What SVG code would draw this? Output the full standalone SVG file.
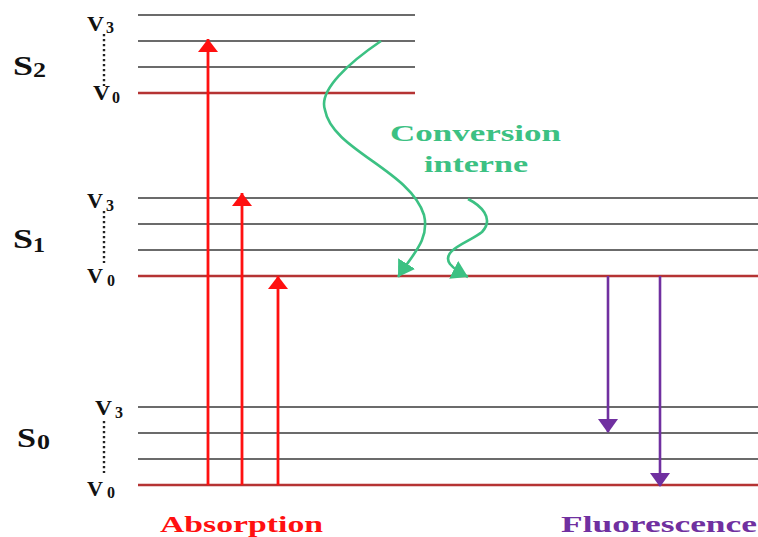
<svg xmlns="http://www.w3.org/2000/svg" width="758" height="537" viewBox="0 0 758 537">
<style>
.lv{stroke:#3a3a3a;stroke-width:1.6;fill:none}
.l0{stroke:#b53333;stroke-width:2.4;fill:none}
.dot{stroke:#222;stroke-width:2.4;stroke-dasharray:2.2 2.8;fill:none}
.t{font-family:"Liberation Serif",serif;font-weight:bold;fill:#111}
.S{font-size:28px}
.Ss{font-size:20px}
.V{font-size:21px}
.Vs{font-size:16px}
.big{font-size:24px}
.ab{stroke:#ff1010;stroke-width:2.8;fill:none}
.fl{stroke:#7030a0;stroke-width:2.6;fill:none}
.ic{stroke:#3cc183;stroke-width:2.6;fill:none}
</style>
<defs>
<marker id="ar" markerWidth="14" markerHeight="20" refX="13" refY="10" orient="auto" markerUnits="userSpaceOnUse"><path d="M0,0 L13,10 L0,20z" fill="#ff1010"/></marker>
<marker id="ap" markerWidth="14" markerHeight="20" refX="13" refY="10" orient="auto" markerUnits="userSpaceOnUse"><path d="M0,0 L14,10 L0,20z" fill="#7030a0"/></marker>
<marker id="ag" markerWidth="17" markerHeight="20" refX="16" refY="10" orient="auto" markerUnits="userSpaceOnUse"><path d="M0,0 L16,10 L0,20z" fill="#3cc183"/></marker>
</defs>
<g id="S2">
<line class="lv" x1="138" y1="15" x2="415" y2="15"/>
<line class="lv" x1="138" y1="41" x2="415" y2="41"/>
<line class="lv" x1="138" y1="67" x2="415" y2="67"/>
<line class="l0" x1="138" y1="93" x2="415" y2="93"/>
<line class="dot" x1="104" y1="34" x2="104" y2="86"/>
<text class="t S" x="13" y="75" textLength="20" lengthAdjust="spacingAndGlyphs">S</text>
<text class="t Ss" x="33" y="77" textLength="13" lengthAdjust="spacingAndGlyphs">2</text>
<text class="t V" x="87" y="31" textLength="17" lengthAdjust="spacingAndGlyphs">V</text>
<text class="t Vs" x="106" y="33">3</text>
<text class="t V" x="93" y="100" textLength="17" lengthAdjust="spacingAndGlyphs">V</text>
<text class="t Vs" x="112" y="103">0</text>
</g>
<g id="S1">
<line class="lv" x1="138" y1="198" x2="758" y2="198"/>
<line class="lv" x1="138" y1="224" x2="758" y2="224"/>
<line class="lv" x1="138" y1="250" x2="758" y2="250"/>
<line class="l0" x1="138" y1="276" x2="758" y2="276"/>
<line class="dot" x1="104" y1="211" x2="104" y2="263"/>
<text class="t S" x="13" y="248" textLength="20" lengthAdjust="spacingAndGlyphs">S</text>
<text class="t Ss" x="33" y="252" textLength="12" lengthAdjust="spacingAndGlyphs">1</text>
<text class="t V" x="87" y="208" textLength="16" lengthAdjust="spacingAndGlyphs">V</text>
<text class="t Vs" x="106" y="211">3</text>
<text class="t V" x="87" y="283" textLength="16" lengthAdjust="spacingAndGlyphs">V</text>
<text class="t Vs" x="107" y="286">0</text>
</g>
<g id="S0">
<line class="lv" x1="138" y1="407" x2="758" y2="407"/>
<line class="lv" x1="138" y1="433" x2="758" y2="433"/>
<line class="lv" x1="138" y1="459" x2="758" y2="459"/>
<line class="l0" x1="138" y1="485" x2="758" y2="485"/>
<line class="dot" x1="104" y1="421" x2="104" y2="473"/>
<text class="t S" x="17" y="447" textLength="19" lengthAdjust="spacingAndGlyphs">S</text>
<text class="t Ss" x="37" y="449" textLength="13" lengthAdjust="spacingAndGlyphs">0</text>
<text class="t V" x="95" y="415" textLength="17" lengthAdjust="spacingAndGlyphs">V</text>
<text class="t Vs" x="115" y="418">3</text>
<text class="t V" x="87" y="496" textLength="16" lengthAdjust="spacingAndGlyphs">V</text>
<text class="t Vs" x="107" y="498">0</text>
</g>
<g id="connectors">
<line class="ab" x1="208" y1="485" x2="208" y2="39" marker-end="url(#ar)"/>
<line class="ab" x1="242" y1="485" x2="242" y2="193" marker-end="url(#ar)"/>
<line class="ab" x1="278" y1="485" x2="278" y2="276" marker-end="url(#ar)"/>
<line class="fl" x1="608" y1="276" x2="608" y2="432" marker-end="url(#ap)"/>
<line class="fl" x1="660" y1="276" x2="660" y2="486" marker-end="url(#ap)"/>
<path class="ic" d="M381,41 C350,62 318,90 325,110 C332,150 410,170 424,215 C430,240 412,255 398,277" marker-end="url(#ag)"/>
<path class="ic" d="M468,199 C480,205 495,218 482,232 C470,242 440,250 450,264 C455,270 462,274 468,277" marker-end="url(#ag)"/>
</g>
<g id="labels">
<text class="t big" x="390" y="141" textLength="171" lengthAdjust="spacingAndGlyphs" style="fill:#3cc183">Conversion</text>
<text class="t big" x="424" y="172" textLength="104" lengthAdjust="spacingAndGlyphs" style="fill:#3cc183">interne</text>
<text class="t big" x="160" y="532" textLength="163" lengthAdjust="spacingAndGlyphs" style="fill:#ff1010">Absorption</text>
<text class="t big" x="561" y="532" textLength="196" lengthAdjust="spacingAndGlyphs" style="fill:#7030a0">Fluorescence</text>
</g>
</svg>
